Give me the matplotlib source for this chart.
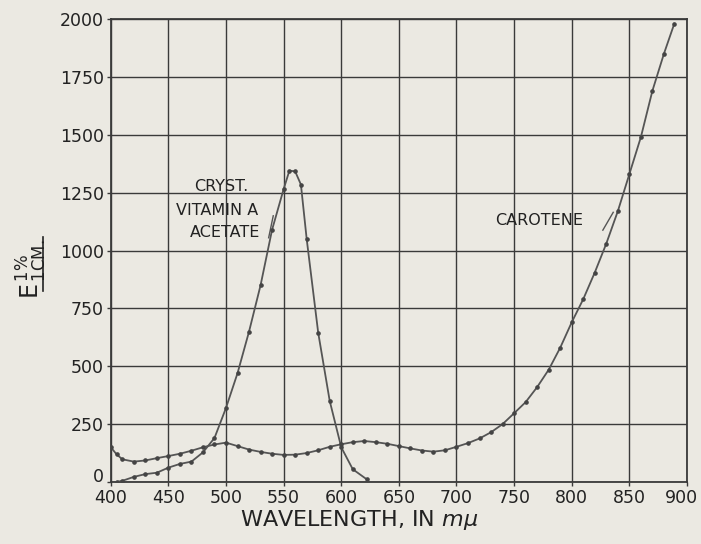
import matplotlib
matplotlib.use("Agg")
import matplotlib.pyplot as plt
from matplotlib.lines import Line2D
from matplotlib.transforms import ScaledTranslation

# Absorption curves, E(1%, 1 cm) against wavelength in millimicrons
vit_a_wl = [405, 410, 420, 430, 440, 450, 460, 470, 480, 490, 500, 510, 520,
            530, 540, 550, 555, 560, 565, 570, 580, 590, 600, 610, 622]
vit_a_e = [0, 5, 22, 34, 40, 62, 78, 88, 128, 190, 320, 470, 650,
           850, 1090, 1265, 1345, 1342, 1285, 1050, 645, 350, 150, 55, 12]

carotene_wl = [400, 405, 410, 420, 430, 440, 450, 460, 470, 480, 490, 500,
               510, 520, 530, 540, 550, 560, 570, 580, 590, 600, 610, 620,
               630, 640, 650, 660, 670, 680, 690, 700, 710, 720, 730, 740,
               750, 760, 770, 780, 790, 800, 810, 820, 830, 840, 850, 860,
               870, 880, 889]
carotene_e = [150, 120, 98, 88, 93, 103, 112, 122, 135, 150, 162, 170,
              155, 140, 130, 122, 117, 118, 125, 137, 152, 163, 172, 177,
              172, 165, 155, 145, 136, 131, 137, 152, 168, 188, 215, 250,
              297, 345, 410, 485, 580, 690, 790, 905, 1030, 1170, 1330, 1490,
              1690, 1850, 1980]

x_ticks = [400, 450, 500, 550, 600, 650, 700, 750, 800, 850, 900]
y_ticks = [0, 250, 500, 750, 1000, 1250, 1500, 1750, 2000]

paper = "#ebe9e2"
ink = "#3a3a3a"
curve_ink = "#555555"
text_ink = "#222222"

plt.rcParams["font.family"] = ["DejaVu Sans"]

fig = plt.figure(figsize=(7.01, 5.44), dpi=100, facecolor=paper)
ax = fig.add_axes([0.158, 0.114, 0.822, 0.851], facecolor=paper)

ax.set_xlim(400, 900)
ax.set_ylim(0, 2000)
ax.set_xticks(x_ticks)
ax.set_yticks(y_ticks)
ax.grid(True, color=ink, linewidth=1.0)
ax.set_axisbelow(True)
for s in ax.spines.values():
    s.set_color(ink)
    s.set_linewidth(1.3)
ax.tick_params(length=3, width=1, color=ink, labelsize=12.5,
               labelcolor=text_ink, pad=2)


def nudge(label, dx_pt, dy_pt):
    label.set_transform(label.get_transform() +
                        ScaledTranslation(dx_pt / 72, dy_pt / 72,
                                          fig.dpi_scale_trans))


# lift the zero label clear of the 400 label, keep 900 inside the figure
nudge(ax.get_yticklabels()[0], 0, 5)
nudge(ax.get_xticklabels()[-1], -4, 0)

ax.plot(vit_a_wl, vit_a_e, color=curve_ink, lw=1.3, marker="o", ms=2.3,
        mfc="#444444", mec="#444444", zorder=3)
ax.plot(carotene_wl, carotene_e, color=curve_ink, lw=1.3, marker="o", ms=2.3,
        mfc="#444444", mec="#444444", zorder=3)

# Curve labels with short leader strokes
lab_kw = dict(fontsize=11.5, color=text_ink, ha="center", va="center")
ax.text(496, 1278, "CRYST.", **lab_kw)
ax.text(492, 1174, "VITAMIN A", **lab_kw)
ax.text(499, 1079, "ACETATE", **lab_kw)
ax.plot([537, 541], [1055, 1150], color=curve_ink, lw=1.0)
ax.text(772, 1131, "CAROTENE", **lab_kw)
ax.plot([827, 836], [1088, 1165], color=curve_ink, lw=1.0)

ax.set_xlabel(r"WAVELENGTH, IN $m\mu$", fontsize=16, color=text_ink)
ax.xaxis.set_label_coords(0.432, -0.082)
ax.xaxis.label.set_va("center")

# Ordinate symbol E(1%, 1 cm), underlined
fig.text(0.045, 0.505, r"$\mathrm{E}^{\,1\%}_{\,\mathrm{1CM.}}$", rotation=90,
         fontsize=17, color=text_ink, ha="center", va="center")
fig.add_artist(Line2D([0.062, 0.062], [0.465, 0.565], color=text_ink,
                      lw=1.2, transform=fig.transFigure))

fig.savefig("out.png", dpi=100, facecolor=paper)
